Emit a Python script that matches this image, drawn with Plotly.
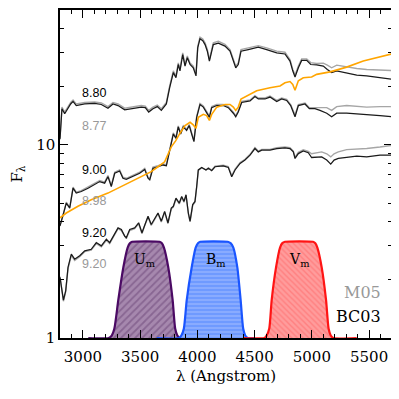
import math
import plotly.graph_objects as go

# wavelength grids (Angstrom) and fluxes
lam_top = [2800, 2817, 2841, 2864, 2893, 2914, 2942, 3016, 3103, 3161,
           3219, 3263, 3307, 3365, 3438, 3510, 3545, 3575, 3612, 3650,
           3685, 3729, 3758, 3790, 3813, 3833, 3848, 3872, 3892, 3912,
           3936, 3964, 3988, 4003, 4023, 4047, 4067, 4087, 4105, 4122,
           4139, 4183, 4241, 4285, 4314, 4335, 4357, 4381, 4445, 4503,
           4532, 4605, 4693, 4765, 4809, 4833, 4853, 4882, 4911, 4955,
           4990, 5042, 5100, 5135, 5173, 5217, 5304, 5392, 5479, 5595, 5697]
bc03_880 = [10.7, 15.4, 14.5, 15.4, 16.3, 16.8, 16.0, 16.3, 16.4, 16.2,
            15.5, 16.3, 16.0, 15.2, 15.4, 15.7, 15.6, 14.8, 15.4, 15.8,
            15.1, 16.3, 19.8, 23.7, 22.3, 26.1, 24.2, 29.4, 25.6, 28.3,
            26.1, 25.1, 22.8, 31.8, 35.5, 34.7, 33.1, 30.6, 27.2, 30.6,
            33.1, 33.7, 32.5, 30.6, 27.2, 25.1, 26.1, 30.6, 31.2, 31.8,
            32.1, 31.2, 30.0, 29.6, 27.2, 24.2, 22.5, 25.1, 27.4, 27.4,
            26.1, 26.0, 25.6, 24.6, 23.7, 24.2, 23.7, 23.0, 22.8, 22.3, 21.9]
m05_877 = [10.9, 15.7, 14.8, 15.7, 16.6, 17.1, 16.3, 16.6, 16.7, 16.5,
           15.8, 16.6, 16.3, 15.5, 15.7, 16.0, 15.9, 15.1, 15.7, 16.1,
           15.4, 16.6, 20.2, 24.2, 22.7, 26.6, 24.7, 30.0, 26.1, 28.9,
           26.6, 25.6, 23.3, 32.4, 36.2, 35.4, 33.8, 31.2, 27.7, 31.2,
           33.8, 34.4, 33.2, 31.2, 27.7, 25.6, 26.6, 31.2, 31.8, 32.4,
           32.7, 31.8, 30.6, 30.2, 27.7, 24.7, 23.0, 25.6, 27.9, 27.9,
           26.7, 26.4, 26.5, 25.9, 25.1, 25.9, 25.3, 24.9, 24.6, 24.4, 24.3]

lam_mid = [2800, 2826, 2855, 2885, 2914, 2942, 2986, 3045, 3103, 3147,
           3190, 3219, 3248, 3278, 3321, 3350, 3379, 3438, 3496, 3540,
           3569, 3584, 3612, 3656, 3700, 3729, 3758, 3790, 3813, 3833,
           3854, 3877, 3906, 3929, 3950, 3970, 3994, 4023, 4052, 4081,
           4105, 4125, 4169, 4226, 4270, 4314, 4335, 4357, 4387, 4460,
           4503, 4532, 4591, 4634, 4693, 4736, 4780, 4815, 4853, 4882,
           4940, 4978, 5027, 5071, 5130, 5173, 5217, 5304, 5392, 5479, 5595, 5697]
bc03_900 = [3.8, 4.27, 5.0, 4.71, 5.97, 5.63, 5.74, 5.97, 6.21, 6.46,
            6.34, 6.85, 6.09, 7.13, 7.33, 6.72, 6.63, 6.85, 7.13, 7.47,
            6.72, 6.59, 7.57, 7.71, 7.87, 7.8, 9.39, 11.4, 10.8, 12.4,
            11.4, 12.4, 11.9, 12.6, 11.4, 10.4, 13.9, 16.2, 15.7, 14.8,
            13.9, 15.6, 16.0, 16.0, 15.6, 14.6, 14.0, 14.8, 16.6, 16.9,
            17.8, 17.3, 17.3, 17.7, 16.8, 17.3, 17.0, 16.0, 14.0, 16.0,
            16.3, 15.4, 15.4, 15.1, 14.6, 14.0, 14.6, 14.6, 14.5, 14.4, 14.2, 14.0]
m05_898 = [3.85, 4.3, 5.05, 4.75, 6.05, 5.7, 5.8, 6.05, 6.3, 6.55,
           6.42, 6.95, 6.17, 7.22, 7.42, 6.8, 6.72, 6.95, 7.22, 7.57,
           6.8, 6.68, 7.67, 7.81, 7.97, 7.9, 9.51, 11.55, 10.95, 12.55,
           11.55, 12.55, 12.05, 12.75, 11.55, 10.55, 14.1, 16.4, 15.9, 15.0,
           14.1, 15.8, 16.2, 16.2, 15.8, 14.8, 14.2, 15.0, 16.8, 17.1,
           18.0, 17.5, 17.5, 17.9, 17.0, 17.5, 17.2, 16.2, 14.3, 16.2,
           16.5, 15.6, 15.6, 15.6, 15.6, 15.1, 15.8, 16.0, 15.8, 15.7, 15.8, 15.8]

lam_bot = [2800, 2830, 2850, 2870, 2899, 2928, 2972, 3016, 3073, 3117,
           3161, 3205, 3234, 3278, 3307, 3336, 3365, 3379, 3409, 3452,
           3487, 3516, 3540, 3569, 3597, 3627, 3656, 3685, 3714, 3743,
           3772, 3790, 3813, 3842, 3863, 3883, 3901, 3921, 3936, 3959,
           3979, 3994, 4008, 4038, 4075, 4096, 4125, 4154, 4226, 4270,
           4300, 4329, 4373, 4416, 4460, 4503, 4532, 4562, 4634, 4693,
           4765, 4809, 4838, 4853, 4882, 4925, 4969, 4998, 5042, 5086,
           5130, 5165, 5194, 5231, 5304, 5392, 5479, 5595, 5697]
bc03_920 = [2.06, 1.57, 1.76, 2.32, 2.72, 2.56, 2.67, 2.83, 2.88, 3.12,
            3.0, 3.25, 3.12, 3.44, 3.72, 3.65, 3.37, 3.31, 3.65, 3.72,
            3.95, 3.51, 3.87, 4.27, 3.87, 4.19, 4.44, 4.03, 4.53, 3.95,
            4.71, 4.81, 5.3, 5.0, 5.41, 5.1, 5.52, 4.44, 4.03, 4.91,
            5.1, 6.09, 7.42, 7.65, 7.42, 7.57, 7.36, 7.71, 7.78, 7.65,
            6.85, 7.42, 8.02, 8.35, 8.85, 9.58, 9.2, 9.39, 9.39, 9.58,
            9.66, 9.58, 9.2, 8.51, 9.02, 9.31, 9.11, 8.61, 8.67, 8.67,
            8.35, 7.96, 8.35, 8.51, 8.61, 8.75, 8.67, 8.85, 8.85]
m05_920 = [2.08, 1.55, 1.74, 2.28, 2.68, 2.52, 2.64, 2.8, 2.85, 3.08,
           2.97, 3.21, 3.08, 3.4, 3.68, 3.6, 3.33, 3.27, 3.6, 3.68,
           3.9, 3.47, 3.83, 4.22, 3.83, 4.15, 4.4, 3.99, 4.48, 3.91,
           4.66, 4.76, 5.25, 4.95, 5.36, 5.05, 5.47, 4.4, 3.99, 4.86,
           5.05, 6.05, 7.38, 7.62, 7.42, 7.6, 7.4, 7.76, 7.85, 7.72,
           6.92, 7.5, 8.1, 8.43, 8.94, 9.68, 9.3, 9.49, 9.49, 9.68,
           9.76, 9.68, 9.3, 8.65, 9.15, 9.45, 9.25, 9.0, 9.1, 9.2,
           9.0, 8.67, 9.0, 9.2, 9.46, 9.5, 9.58, 9.75, 9.95]

lam_orange = [2800, 2855, 2957, 3073, 3219, 3365, 3481, 3597, 3656, 3714,
              3772, 3810, 3848, 3892, 3936, 3964, 3988, 4008, 4052, 4081,
              4105, 4125, 4169, 4241, 4285, 4314, 4335, 4357, 4381, 4460,
              4518, 4634, 4722, 4765, 4809, 4833, 4853, 4882, 4925, 4998,
              5042, 5159, 5304, 5449, 5595, 5697]
f_orange = [4.19, 4.44, 4.81, 5.20, 5.63, 6.21, 6.72, 7.27, 7.71, 8.18,
            9.77, 10.5, 11.5, 12.6, 13.1, 12.7, 12.2, 13.9, 14.4, 14.2,
            13.4, 14.4, 15.7, 16.2, 16.2, 15.7, 15.1, 15.7, 17.3, 18.3,
            19.1, 19.8, 20.2, 21.0, 21.3, 20.6, 19.2, 21.5, 22.3, 22.5,
            23.2, 23.9, 25.3, 27.2, 28.5, 29.6]

# filter curves (drawn in the flux units of the panel)
filt_shape = [1.0, 1.0, 1.03, 1.12, 1.57, 2.32, 2.94, 3.1, 3.15, 3.15, 3.1, 2.94, 2.32, 1.57, 1.12, 1.03, 1.0, 1.0]
lam_U = [3047, 3225, 3252, 3275, 3309, 3353, 3391, 3410, 3430, 3670, 3690, 3708, 3746, 3784, 3806, 3825, 3848, 3900]
lam_B = [3645, 3840, 3860, 3882, 3907, 3950, 3985, 4005, 4025, 4265, 4290, 4314, 4349, 4378, 4400, 4418, 4440, 4500]
lam_V = [4401, 4585, 4605, 4628, 4649, 4687, 4722, 4742, 4765, 5010, 5030, 5048, 5086, 5124, 5146, 5165, 5187, 5392]

age_labels = ["8.80", "8.77", "9.00", "8.98", "9.20", "9.20"]
age_y = [18.5, 12.6, 7.42, 5.14, 3.51, 2.43]
age_colors = ["black", "#999999", "black", "#999999", "black", "#999999"]

GRAY = "#a6a6a6"
SERIF = "DejaVu Serif"

fig = go.Figure()

filters = [
    (lam_U, "#4b0a64", dict(shape="/", bgcolor="#a688ae", fgcolor="#6a4476", size=5, solidity=0.35)),
    (lam_B, "#1a55ff", dict(shape="-", bgcolor="#6f9aff", fgcolor="#b9ccff", size=4, solidity=0.35)),
    (lam_V, "#ff1414", dict(shape="\\", bgcolor="#ff9c9c", fgcolor="#ff6464", size=4, solidity=0.35)),
]
for lam, col, patt in filters:
    fig.add_trace(go.Scatter(x=lam, y=filt_shape, mode="lines", fill="toself",
                             line=dict(color=col, width=2.2, shape="spline", smoothing=0.6),
                             fillpattern=patt, fillcolor="rgba(0,0,0,0)",
                             showlegend=False, hoverinfo="skip"))

for lam, grey, black in [(lam_top, m05_877, bc03_880),
                         (lam_mid, m05_898, bc03_900),
                         (lam_bot, m05_920, bc03_920)]:
    fig.add_trace(go.Scatter(x=lam, y=grey, mode="lines",
                             line=dict(color=GRAY, width=1.4), showlegend=False))
    fig.add_trace(go.Scatter(x=lam, y=black, mode="lines",
                             line=dict(color="#1a1a1a", width=1.25), showlegend=False))

fig.add_trace(go.Scatter(x=lam_orange, y=f_orange, mode="lines",
                         line=dict(color="#ffa500", width=1.6), showlegend=False))

# annotations on a log axis take log10 positions
for txt, yv, col in zip(age_labels, age_y, age_colors):
    fig.add_annotation(x=2972, y=math.log10(yv), text=txt, showarrow=False,
                       xanchor="left", font=dict(family="Liberation Sans", size=12.5, color=col))

for txt, xv in [("U<sub>m</sub>", 3545), ("B<sub>m</sub>", 4165), ("V<sub>m</sub>", 4896)]:
    fig.add_annotation(x=xv, y=math.log10(2.55), text=txt, showarrow=False,
                       font=dict(family=SERIF, size=14, color="black"))

fig.add_annotation(x=5624, y=math.log10(1.73), text="M05", showarrow=False, xanchor="right",
                   font=dict(family=SERIF, size=16, color="#999999"))
fig.add_annotation(x=5624, y=math.log10(1.29), text="BC03", showarrow=False, xanchor="right",
                   font=dict(family=SERIF, size=16, color="black"))

axis_common = dict(showline=True, linecolor="black", linewidth=1.5, mirror="ticks",
                   ticks="inside", ticklen=8, tickwidth=1, tickcolor="black",
                   showgrid=False, zeroline=False,
                   tickfont=dict(family=SERIF, size=15, color="black"))

# page body has an 8px margin, so the figure is a bit smaller than the window
fig.update_layout(
    width=391, height=391,
    margin=dict(l=52, r=7, t=0, b=61),
    plot_bgcolor="white", paper_bgcolor="white",
    xaxis=dict(range=[2800, 5700], tickvals=[3000, 3500, 4000, 4500, 5000, 5500],
               ticklabelstandoff=4,
               minor=dict(dtick=100, tick0=2800, ticks="inside", ticklen=4, tickcolor="black"),
               title=dict(text="λ (Angstrom)", font=dict(family=SERIF, size=15, color="black"), standoff=6),
               **axis_common),
    yaxis=dict(type="log", range=[0, 1.69897], tickvals=[1, 10], ticktext=["1", "10"],
               minor=dict(tickvals=[2, 3, 4, 5, 6, 7, 8, 9, 20, 30, 40], ticks="inside",
                          ticklen=4, tickcolor="black"),
               title=dict(text="F<sub>λ</sub>", font=dict(family=SERIF, size=15, color="black"), standoff=14),
               **axis_common),
)

fig.write_html("out.html")
